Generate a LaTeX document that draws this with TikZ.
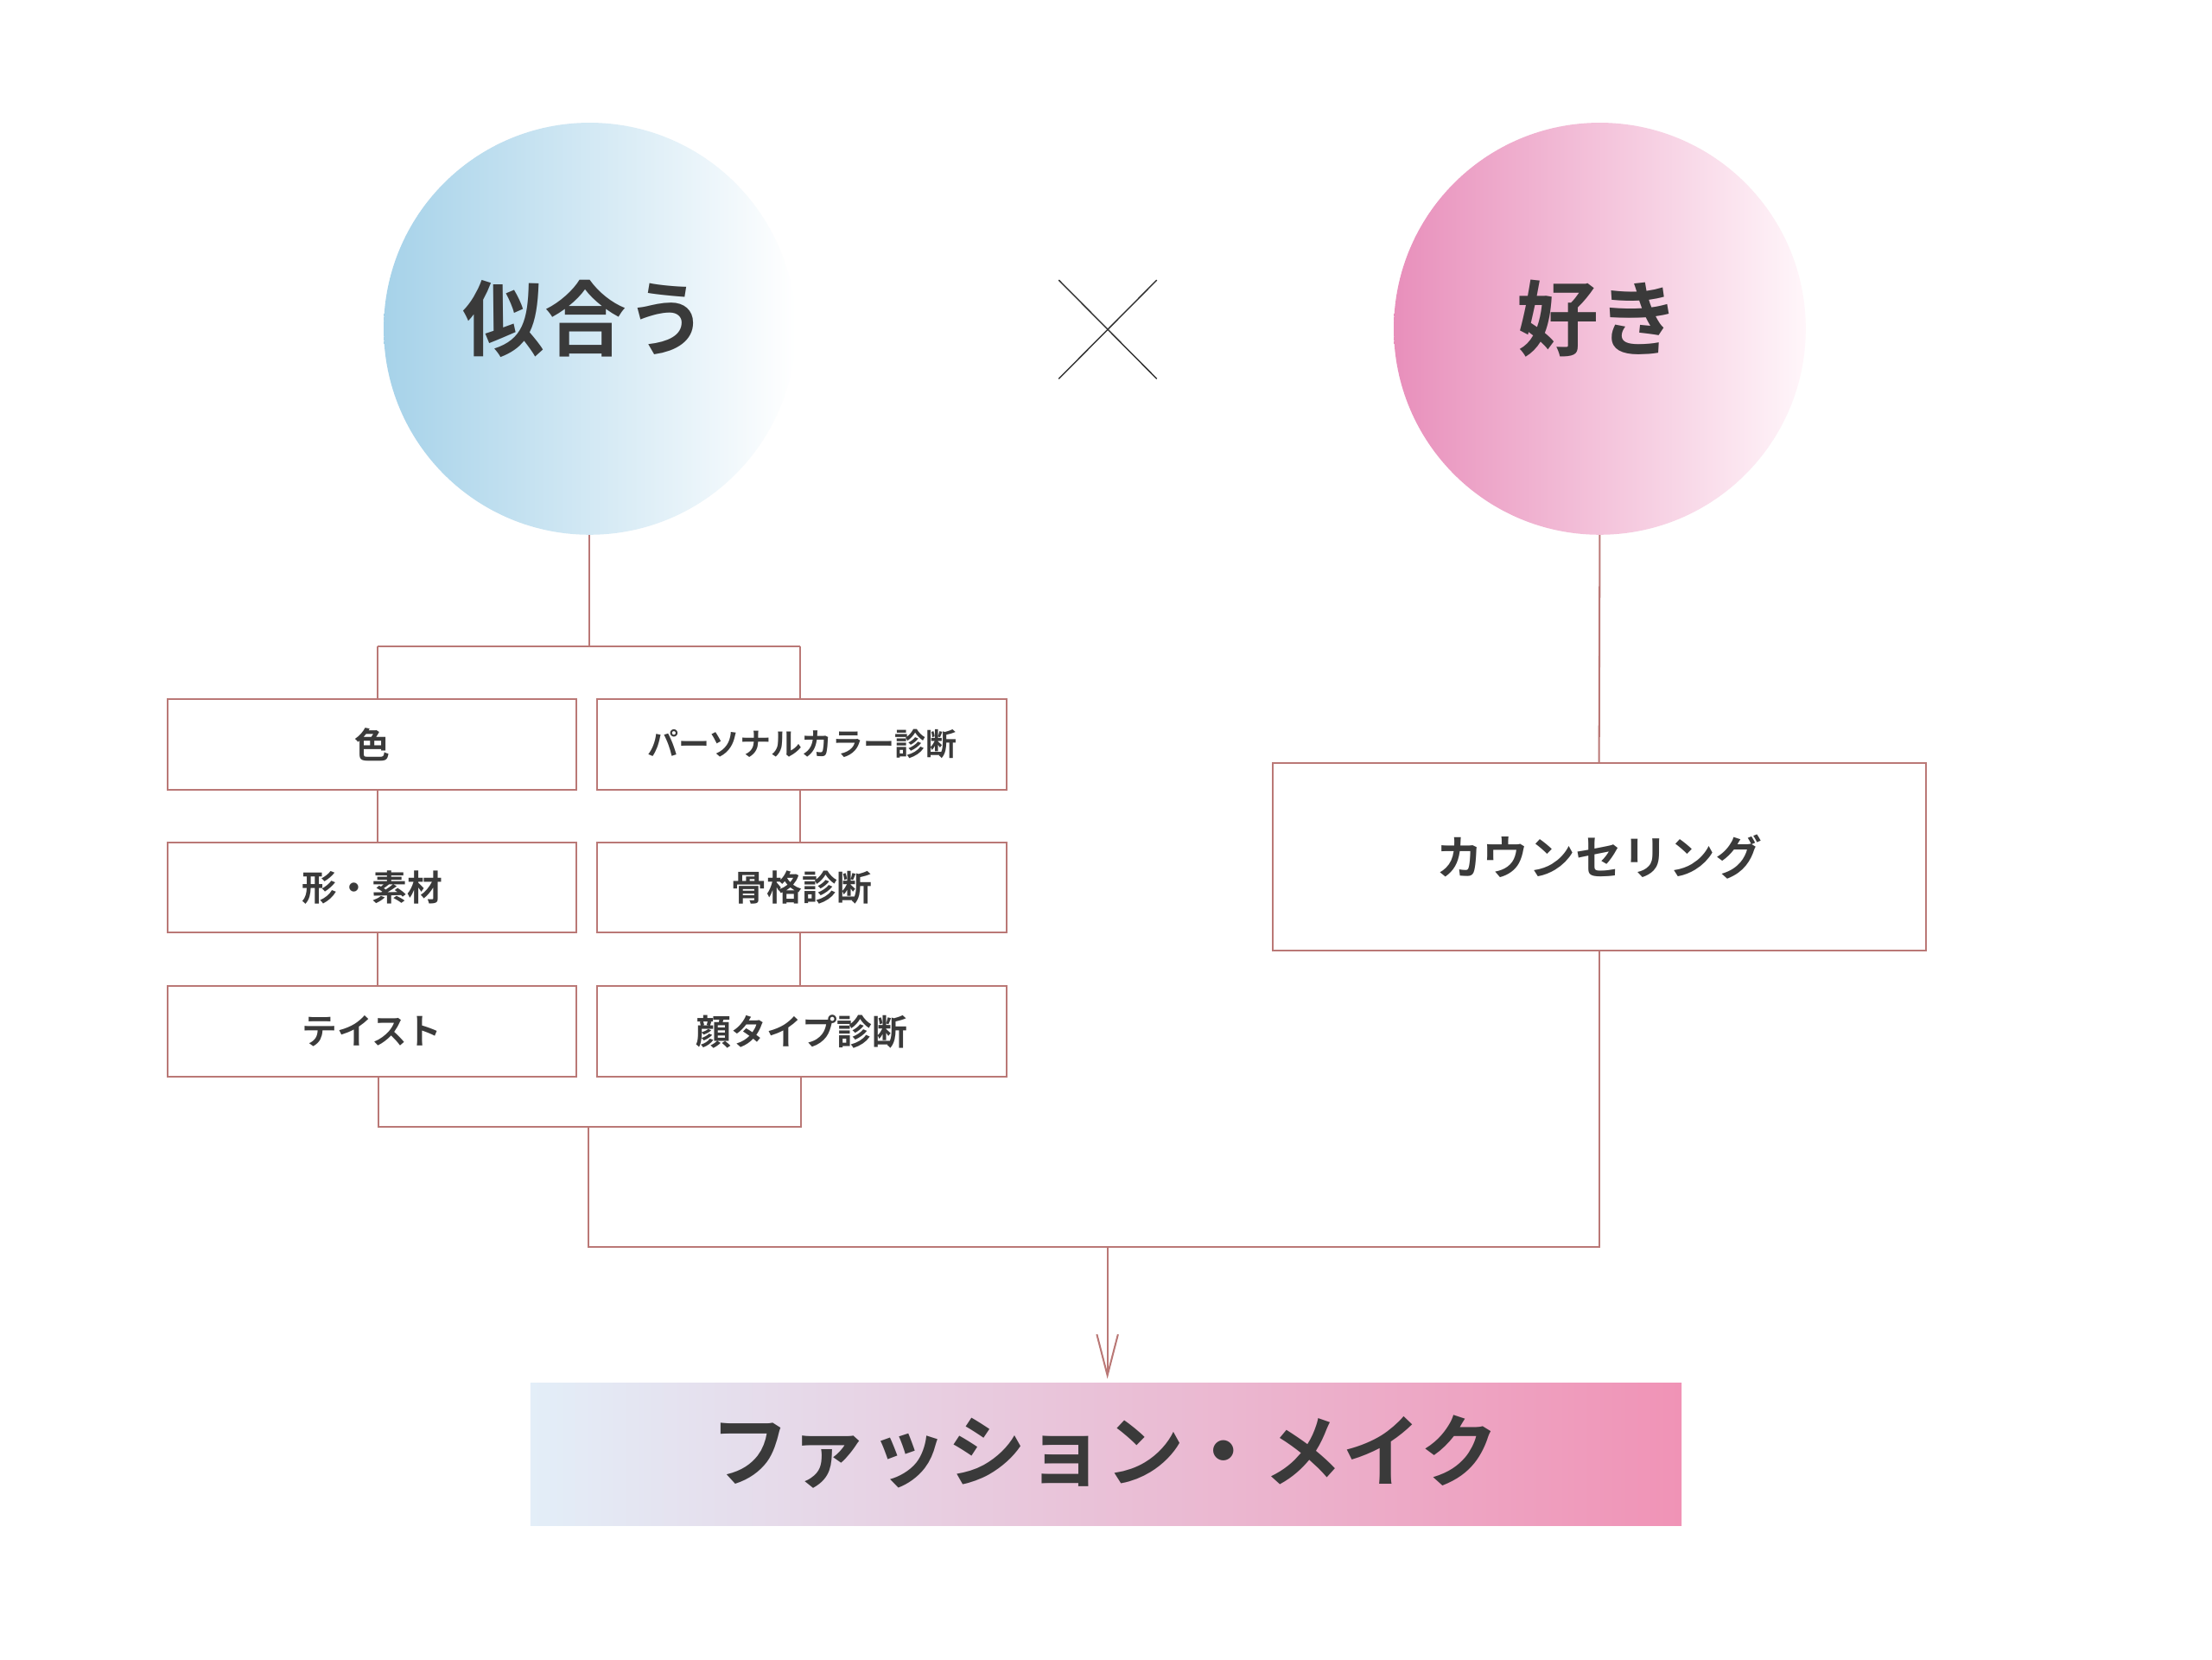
\documentclass[tikz,border=0pt]{standalone}
\usepackage{fontspec}
\newfontfamily\jp{Noto Sans CJK JP}[BoldFont={Noto Sans CJK JP Bold}]
\usetikzlibrary{arrows.meta,calc}
\definecolor{linec}{RGB}{186,120,118}
\definecolor{txt}{RGB}{58,58,58}
\definecolor{blueL}{RGB}{166,210,233}
\definecolor{pinkL}{RGB}{232,143,187}
\definecolor{pinkR}{RGB}{255,246,250}
\definecolor{barL}{RGB}{227,238,248}
\definecolor{barR}{RGB}{240,147,182}
\tikzset{
  conn/.style={draw=linec, line width=1.25pt},
  bigcirc/.style={circle, minimum size=292pt, inner sep=0pt},
  bigtext/.style={text=txt, inner sep=0pt, font=\jp\bfseries\fontsize{58}{64}\selectfont},
  itembox/.style={draw=linec, line width=1.25pt, fill=white, minimum width=290pt,
    minimum height=64pt, inner sep=0pt, text=txt,
    font=\jp\bfseries\fontsize{25}{30}\selectfont},
  xline/.style={draw=black!80, line width=0.9pt}
}
\begin{document}
\begin{tikzpicture}[x=1pt,y=-1pt]
\useasboundingbox[fill=white] (0,0) rectangle (1568,1176);
% circles
\node[bigcirc, left color=blueL, right color=white] (c1) at (418,233) {};
\node[bigtext] (t1) at (415,226) {似合う};
\node[bigcirc, left color=pinkL, right color=pinkR] (c2) at (1134,233) {};
\node[bigtext] (t2) at (1133,226) {好き};
% cross
\draw[xline] (750.5,198.5) -- (820,268.5);
\draw[xline] (820,198.5) -- (750.5,268.5);
% left boxes
\node[itembox] (b11) at (263.8,527.6) {色};
\node[itembox, font=\jp\bfseries\fontsize{22}{26}\selectfont] (b12) at (568.5,527.6) {パーソナルカラー診断};
\node[itembox] (b21) at (263.8,629.1) {形・素材};
\node[itembox] (b22) at (568.5,629.1) {骨格診断};
\node[itembox] (b31) at (263.8,731) {テイスト};
\node[itembox] (b32) at (568.5,731) {顔タイプ診断};
% right box
\node[itembox, minimum width=463pt, minimum height=133pt,
  font=\jp\bfseries\fontsize{33}{38}\selectfont] (cb) at (1133.5,607.5) {カウンセリング};
% bottom bar
\node[minimum width=816pt, minimum height=101pt, inner sep=0pt,
  left color=barL, right color=barR] (fm) at (784,1031) {};
\node[text=txt, inner sep=0pt, font=\jp\bfseries\fontsize{56}{62}\selectfont] (fmt) at (783,1029) {ファッション・メイク};
% junction coordinates
\coordinate (jt) at (418,458);
\coordinate (jl) at (267.5,458);
\coordinate (jr) at (567,458);
\coordinate (kl) at (268.5,798.4);
\coordinate (kr) at (568,798.4);
\coordinate (km) at (417,798.4);
\coordinate (mL) at (417,884);
\coordinate (mR) at (1133.5,884);
\coordinate (mM) at (785,884);
% connectors
\draw[conn] (c1.south) -- (jt);
\draw[conn] (jl) -- (jr);
\draw[conn] (jl) -- (jl |- b11.north);
\draw[conn] (jr) -- (jr |- b12.north);
\draw[conn] (jl |- b11.south) -- (jl |- b21.north);
\draw[conn] (jr |- b12.south) -- (jr |- b22.north);
\draw[conn] (jl |- b21.south) -- (jl |- b31.north);
\draw[conn] (jr |- b22.south) -- (jr |- b32.north);
\draw[conn] (kl |- b31.south) -- (kl) -- (kr) -- (kr |- b32.south);
\draw[conn] (km) -- (mL) -- (mR) -- (cb.south);
\draw[conn] (c2.south) -- (cb.north);
\draw[conn, -{Straight Barb[length=29pt,width=15pt,line width=1.25pt]}] (mM) -- ($(fm.north)+(1,-3)$);
\end{tikzpicture}
\end{document}
